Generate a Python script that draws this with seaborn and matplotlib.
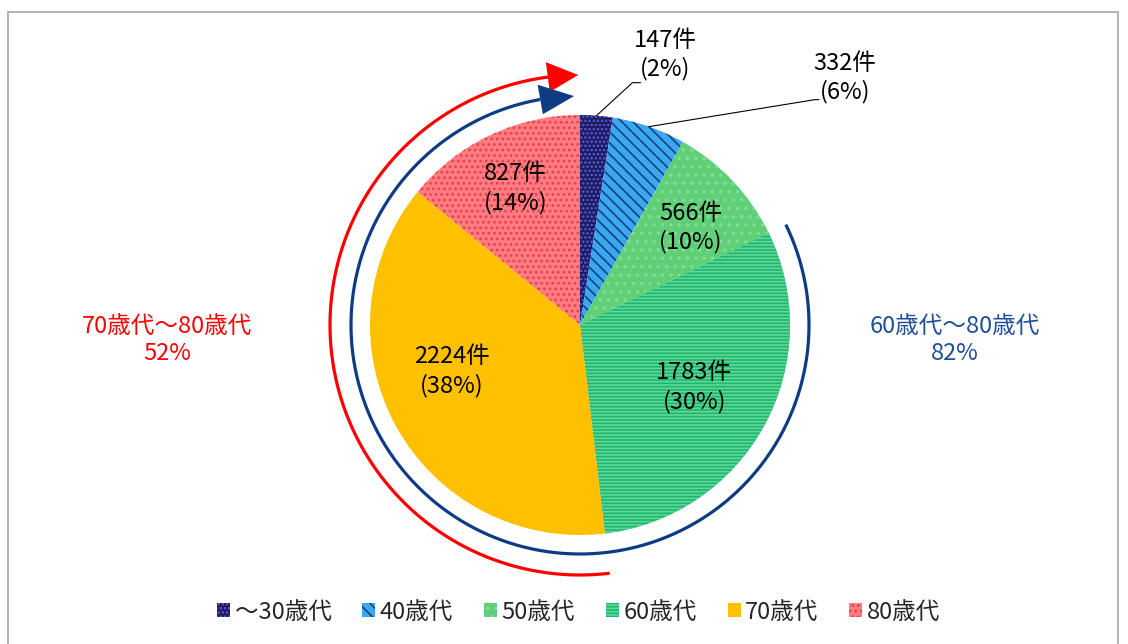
import numpy as np
import matplotlib.pyplot as plt
import seaborn as sns
from matplotlib.patches import Polygon, Rectangle

# data
groups = ["～30歳代", "40歳代", "50歳代", "60歳代", "70歳代", "80歳代"]
counts = [147, 332, 566, 1783, 2224, 827]
percents = [2, 6, 10, 30, 38, 14]
span_texts = ["70歳代～80歳代\n52%", "60歳代～80歳代\n82%"]

sns.set_theme(style="white")
plt.rcParams['font.family'] = ['Noto Sans CJK JP', 'DejaVu Sans']
plt.rcParams['hatch.linewidth'] = 1.2

colors = ["#1c1c5c", "#3aa8f0", "#5fcf78", "#1fb56c", "#ffc000", "#ff7c80"]
hatch_colors = ["#5a5ae0", "#17407e", "#86dc98", "#5fd898", "#ffc000", "#e8404c"]
hatches = ["....", "\\\\\\", "..", "-----", "", "..."]

W, H = 1128, 644
fig = plt.figure(figsize=(W / 100, H / 100), dpi=100)
ax = fig.add_axes([0, 0, 1, 1])
cx, cy, R = 580, H - 325, 210

wedges, _ = ax.pie(counts, colors=colors, startangle=90, counterclock=False,
                   center=(cx, cy), radius=R, wedgeprops=dict(linewidth=0))
for w, hc, h in zip(wedges, hatch_colors, hatches):
    w.set_hatch(h)
    w.set_edgecolor(hc)


def pt(ang, r):
    # angle in degrees, measured clockwise from 12 o'clock
    a = np.deg2rad(ang)
    return cx + r * np.sin(a), cy + r * np.cos(a)


total = sum(counts)
cum = np.cumsum([0] + counts) / total * 360
mids = (cum[:-1] + cum[1:]) / 2
fs = 17
ls = 1.27

# labels inside the big slices: (radius factor, angle shift)
inner = {2: (0.70, 2), 3: (0.62, 0), 4: (0.65, 9), 5: (0.72, 0)}
for i, (f, da) in inner.items():
    x, y = pt(mids[i] + da, R * f)
    ax.text(x, y, f"{counts[i]}件\n({percents[i]}%)", ha="center", va="center",
            fontsize=fs, linespacing=ls, color="black")

# small slices: outside labels with leader lines
leaders = {0: ((36, 33), (44, 33)), 1: ((166, 27), (170, 27))}
for i, (bend, end) in leaders.items():
    x0, y0 = pt(mids[i], R)
    ax.plot([x0, x0 + bend[0], x0 + end[0]], [y0, y0 + bend[1], y0 + end[1]],
            color="black", lw=0.8)
for i, pos in {0: (665, 55), 1: (845, 78)}.items():
    ax.text(pos[0], H - pos[1], f"{counts[i]}件\n({percents[i]}%)", ha="center", va="center",
            fontsize=fs, linespacing=ls, color="black")


def arc(start, base, tip, r, color):
    t = np.linspace(start, base, 300)
    xs, ys = pt(t, r)
    ax.plot(xs, ys, color=color, lw=2.3, solid_capstyle="butt")
    bx, by = pt(base, r)
    ux, uy = np.sin(np.deg2rad(base)), np.cos(np.deg2rad(base))
    tx, ty = pt(tip, r)
    ax.add_patch(Polygon([(tx, ty), (bx + 15 * ux, by + 15 * uy), (bx - 15 * ux, by - 15 * uy)],
                         closed=True, color=color, lw=0))


arc(cum[4], 352.6, 359.6, 250, "#ff0000")
arc(cum[3], 350.0, 358.5, 229, "#0e3c84")

ax.text(167, H - 340, span_texts[0], ha="center", va="center", fontsize=fs,
        color="#ff0000", linespacing=ls)
ax.text(955, H - 340, span_texts[1], ha="center", va="center", fontsize=fs,
        color="#1f4e9a", linespacing=ls)

ax.set_xlim(0, W)
ax.set_ylim(0, H)
ax.set_aspect("equal")
ax.axis("off")

fig.legend(wedges, groups, loc="center", bbox_to_anchor=(0.513, (H - 612) / H), ncol=6,
           frameon=False, fontsize=fs, handlelength=0.55, handleheight=0.55,
           handletextpad=0.2, columnspacing=1.3)

fig.patches.append(Rectangle((8 / W, -0.1), (1118 - 8) / W, (H - 12) / H + 0.1,
                             transform=fig.transFigure, fill=False,
                             edgecolor="#a6a6a6", lw=1.2))

fig.savefig("out.png", dpi=100)
